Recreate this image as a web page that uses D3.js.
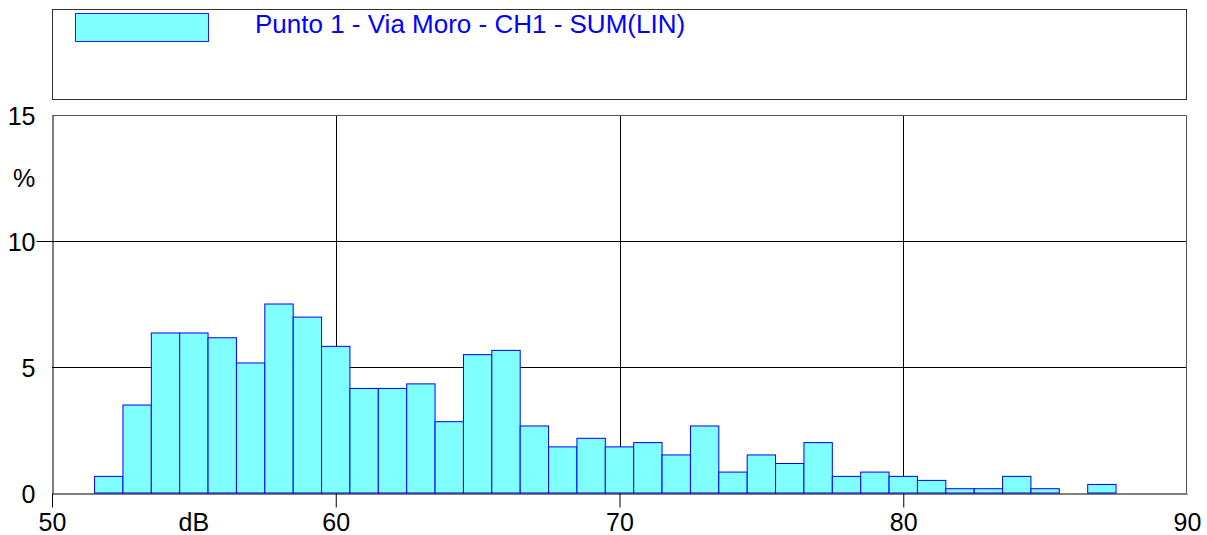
<!DOCTYPE html>
<html>
<head>
<meta charset="utf-8">
<script src="https://cdn.jsdelivr.net/npm/d3@7"></script>
<style>
  body { margin: 0; background: #fff; }
  svg { display: block; font-family: "Liberation Sans", Arial, sans-serif; }
</style>
</head>
<body>
<svg width="1207" height="535"></svg>
<script>
  // histogram classes, 1 dB wide, lower edge in dB
  var binStarts = [51.5, 52.5, 53.5, 54.5, 55.5, 56.5, 57.5, 58.5, 59.5, 60.5,
    61.5, 62.5, 63.5, 64.5, 65.5, 66.5, 67.5, 68.5, 69.5, 70.5,
    71.5, 72.5, 73.5, 74.5, 75.5, 76.5, 77.5, 78.5, 79.5, 80.5,
    81.5, 82.5, 83.5, 84.5, 85.5, 86.5];
  var percents = [0.66, 3.49, 6.35, 6.35, 6.16, 5.16, 7.5, 6.98, 5.82, 4.15,
    4.15, 4.33, 2.83, 5.49, 5.66, 2.66, 1.83, 2.17, 1.83, 2.0,
    1.51, 2.66, 0.83, 1.51, 1.17, 2.0, 0.66, 0.83, 0.66, 0.5,
    0.17, 0.17, 0.66, 0.17, 0, 0.34];
  var xTicks = [50, 60, 70, 80, 90];
  var yTicks = [0, 5, 10, 15];
  var seriesName = "Punto 1 - Via Moro - CH1 - SUM(LIN)";

  var svg = d3.select("svg");
  var plotLeft = 52, plotRight = 1187, plotTop = 115, plotBottom = 493;

  var x = d3.scaleLinear().domain([50, 90]).range([plotLeft, plotRight]);
  var y = d3.scaleLinear().domain([0, 15]).range([plotBottom, plotTop]);

  var fill = "#80ffff", edge = "#0000ff";

  // legend box
  svg.append("rect")
    .attr("x", 52.5).attr("y", 9.5)
    .attr("width", plotRight - 53).attr("height", 90)
    .attr("fill", "none").attr("stroke", "#333").attr("stroke-width", 1);
  svg.append("rect")
    .attr("x", 75.5).attr("y", 13.5).attr("width", 133).attr("height", 28)
    .attr("fill", fill).attr("stroke", "#2020ff").attr("stroke-width", 1);
  svg.append("text")
    .attr("x", 255).attr("y", 33)
    .attr("fill", edge).style("font-size", "26px")
    .text(seriesName);

  // grid
  var grid = svg.append("g").attr("stroke", "#000").attr("stroke-width", 1);
  grid.selectAll("line.v")
    .data([60, 70, 80])
    .enter().append("line")
    .attr("x1", function (d) { return Math.round(x(d)) + 0.5; })
    .attr("x2", function (d) { return Math.round(x(d)) + 0.5; })
    .attr("y1", plotTop).attr("y2", plotBottom);
  grid.selectAll("line.h")
    .data([5, 10])
    .enter().append("line")
    .attr("x1", plotLeft).attr("x2", plotRight)
    .attr("y1", function (d) { return Math.round(y(d)) + 0.5; })
    .attr("y2", function (d) { return Math.round(y(d)) + 0.5; });

  // frame top & right
  svg.append("path")
    .attr("d", "M" + (plotLeft + 0.5) + "," + (plotTop + 0.5) + "H" + (plotRight - 0.5) + "V" + plotBottom)
    .attr("fill", "none").attr("stroke", "#555");

  // bars
  svg.append("g")
    .selectAll("rect")
    .data(percents)
    .enter()
    .append("rect")
    .attr("x", function (d, i) { return x(binStarts[i]); })
    .attr("width", function (d, i) { return x(binStarts[i] + 1) - x(binStarts[i]); })
    .attr("y", function (d) { return y(d); })
    .attr("height", function (d) { return y(0) - y(d); })
    .attr("fill", fill)
    .attr("stroke", edge)
    .attr("stroke-width", 1);

  // axes
  var xAxis = svg.append("g")
    .attr("transform", "translate(0," + (plotBottom + 0.5) + ")")
    .call(d3.axisBottom(x).tickValues(xTicks).tickSize(14).tickPadding(6).tickSizeOuter(0));
  var yAxis = svg.append("g")
    .attr("transform", "translate(" + (plotLeft + 0.5) + ",0)")
    .call(d3.axisLeft(y).tickValues(yTicks).tickSize(16).tickPadding(1).tickSizeOuter(0));

  [xAxis, yAxis].forEach(function (g) {
    g.selectAll("text").style("font-size", "25px").attr("fill", "#000")
      .style("font-family", "'Liberation Sans', Arial, sans-serif");
    g.select(".domain").attr("stroke", "#000");
  });
  // 90 tick and the 0/5/15 y ticks are not drawn in the reference
  xAxis.selectAll(".tick").filter(function (d) { return d === 90; }).select("line").remove();
  yAxis.selectAll(".tick").filter(function (d) { return d === 15 || d === 0 || d === 5; })
    .select("line").remove();
  yAxis.selectAll(".tick text").attr("dy", "0.36em");

  // unit labels
  svg.append("text")
    .attr("x", x(55)).attr("y", 531)
    .attr("text-anchor", "middle").style("font-size", "25px")
    .text("dB");
  svg.append("text")
    .attr("x", 24).attr("y", 187)
    .attr("text-anchor", "middle").style("font-size", "25px")
    .text("%");
</script>
</body>
</html>
